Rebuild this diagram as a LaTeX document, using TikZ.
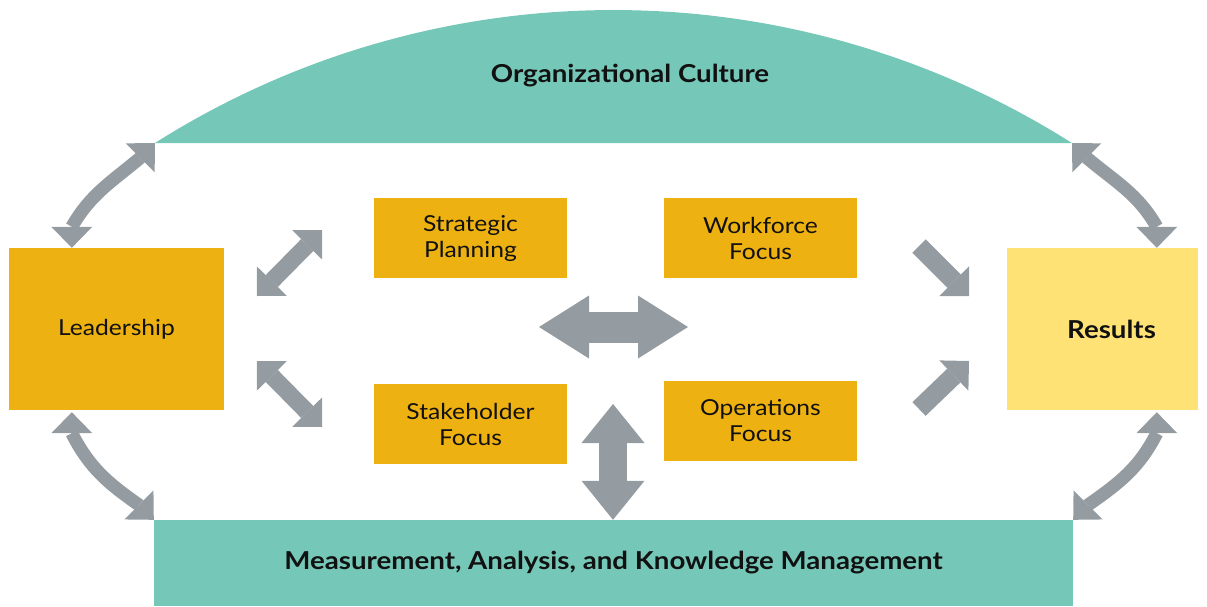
\documentclass[tikz,border=0pt]{standalone}
\usepackage{fontspec}
\setmainfont{Lato}[FakeStretch=1.12]
\usetikzlibrary{arrows.meta,calc}
\definecolor{gold}{HTML}{EDB112}
\definecolor{lightgold}{HTML}{FEE275}
\definecolor{teal}{HTML}{75C7B8}
\definecolor{arrowgray}{HTML}{959CA1}
\definecolor{ink}{HTML}{111111}
\tikzset{
  box/.style={fill=gold, draw=none, inner sep=0pt, align=center, text=ink,
    font=\fontsize{22}{26}\selectfont},
  boldtext/.style={font=\bfseries\fontsize{24.7}{29}\selectfont, text=ink},
  curvetip/.tip={Triangle[width=41pt,length=21pt,line width=0pt]},
  thicktip/.tip={Triangle[width=42pt,length=21pt,line width=0pt]},
  hortip/.tip={Triangle[width=63pt,length=50pt,line width=0pt]},
  verttip/.tip={Triangle[width=63pt,length=39pt,line width=0pt]},
  curvearrow/.style={draw=arrowgray, line width=13pt, line cap=butt, line join=round, {curvetip}-{curvetip}},
  diagarrow/.style={draw=arrowgray, line width=17pt, line cap=butt},
}
\begin{document}
\begin{tikzpicture}[x=1pt,y=1pt]
\useasboundingbox (0,0) rectangle (1207,-606);
% organizational culture dome
\coordinate (cL) at (155,-143);
\coordinate (cR) at (1072,-143);
\fill[teal] (cL) arc[start angle=122.35, end angle=57.65, radius=856.8pt] -- cycle;
\node[boldtext] (culture) at (630,-76) {Organizational Culture};
% measurement bar
\node[box, fill=teal, minimum width=919pt, minimum height=86pt, boldtext] (mak) at (613.5,-563) {Measurement, Analysis, and Knowledge Management};
% boxes
\node[box, minimum width=215pt, minimum height=162pt] (lead) at (116.5,-329) {Leadership};
\node[box, fill=lightgold, minimum width=191pt, minimum height=162pt, boldtext] (res) at (1102.5,-329) {\hspace*{18pt}Results};
\node[box, minimum width=193pt, minimum height=80pt] (sp) at (470.5,-238) {Strategic\\Planning};
\node[box, minimum width=193pt, minimum height=80pt] (wf) at (760.5,-238) {Workforce\\Focus};
\node[box, minimum width=193pt, minimum height=80pt] (sh) at (470.5,-424) {Stakeholder\\Focus};
\node[box, minimum width=193pt, minimum height=80pt] (op) at (760.5,-421) {Operations\\Focus};
% curved arrows (tip, head base, curve, head base, tip)
\coordinate (ltB) at ($(lead.north west)+(63,0)$);
\coordinate (rtB) at ($(res.north west)+(150,0)$);
\coordinate (lbT) at ($(lead.south west)+(63,-2)$);
\coordinate (rbT) at ($(res.south west)+(150,-2)$);
\draw[curvearrow] (ltB) -- ++(0,21) to[out=60, in=220] ($(cL)+(-14.85,-14.85)$) -- (cL);
\draw[curvearrow] (rtB) -- ++(0,21) to[out=120, in=320] ($(cR)+(14.85,-14.85)$) -- (cR);
\draw[curvearrow] (lbT) -- ++(0,-21) to[out=297, in=145] ($(mak.north west)+(-14.85,14.85)$) -- (mak.north west);
\draw[curvearrow] (rbT) -- ++(0,-21) to[out=243, in=35] ($(mak.north east)+(14.85,14.85)$) -- (mak.north east);
% diagonal arrows at leadership
\coordinate (d1a) at (257,-296); \coordinate (d1b) at (322,-230);
\coordinate (d2a) at (257,-361); \coordinate (d2b) at (322,-427);
\draw[diagarrow, {thicktip}-{thicktip}] (d1a) -- (d1b);
\draw[diagarrow, {thicktip}-{thicktip}] (d2a) -- (d2b);
% arrows to results
\coordinate (r1a) at (919,-246); \coordinate (r1b) at (969,-296);
\coordinate (r2a) at (919,-409); \coordinate (r2b) at (969,-361);
\draw[diagarrow, line width=19pt, -{thicktip}] (r1a) -- (r1b);
\draw[diagarrow, line width=19pt, -{thicktip}] (r2a) -- (r2b);
% central horizontal double arrow
\coordinate (hL) at (539,-327); \coordinate (hR) at (688,-327);
\draw[draw=arrowgray, line width=31pt, line cap=butt, {hortip}-{hortip}] (hL) -- (hR);
% vertical double arrow
\coordinate (vT) at (613,-404);
\draw[draw=arrowgray, line width=28pt, line cap=butt, {verttip}-{verttip}] (vT) -- (vT |- mak.north);
\end{tikzpicture}
\end{document}
